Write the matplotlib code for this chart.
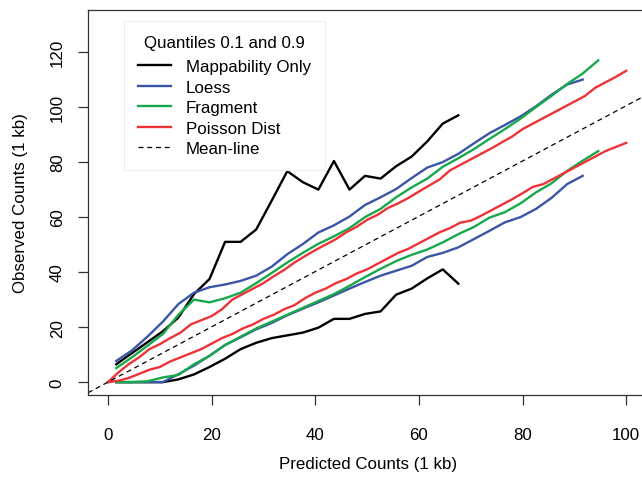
import matplotlib
matplotlib.use("Agg")
from matplotlib import pyplot as plt

plt.rcParams['font.family'] = ['Liberation Sans', 'DejaVu Sans']

# x positions (predicted counts) for the binned quantile curves
x_bins = [1.6, 4.6, 7.6, 10.6, 13.6, 16.6, 19.6, 22.6, 25.6, 28.6, 31.6, 34.6,
          37.6, 40.6, 43.6, 46.6, 49.6, 52.6, 55.6, 58.6, 61.6, 64.6, 67.6, 70.6,
          73.6, 76.6, 79.6, 82.6, 85.6, 88.6, 91.6, 94.6]
x_pois = list(range(0, 101, 2))

# Mappability only
map_hi = [6.5, 10.5, 14.5, 18.5, 23.5, 32, 37.5, 51, 51, 55.5, 66, 76.7,
          72.7, 70, 80.4, 70, 75, 74, 78.5, 82, 87.5, 94, 97]
map_lo = [0, 0, 0, 0, 1, 2.8, 5.5, 8.5, 12, 14.3, 16, 17,
          18, 19.8, 23, 23, 24.8, 25.7, 31.8, 34, 37.7, 41, 35.8]

# Loess
loess_hi = [7.7, 11.5, 16.5, 22, 28.4, 32.5, 34.5, 35.5, 36.8, 38.7, 42, 46.5,
            50.2, 54.4, 57, 60.2, 64.4, 67.2, 70.2, 74.2, 78, 80, 83, 86.8,
            90.5, 93.5, 96.6, 100.3, 104.5, 108.2, 110]
loess_lo = [0, 0, 0, 0, 2.9, 6, 9.6, 13.5, 16.3, 19.2, 21.5, 24.3,
            26.7, 29, 31.5, 34, 36.4, 38.7, 40.5, 42.3, 45.5, 47, 49, 52,
            55, 58.1, 60, 63, 67, 72, 75]

# Fragment
frag_hi = [5.1, 9, 13.2, 17.5, 24.5, 30, 29, 30.5, 32.5, 36, 39.7, 43.5,
           47, 50.3, 53, 56, 60, 63, 67.2, 70.8, 74, 78.3, 81.4, 84.7,
           88.4, 92, 95.8, 100, 104.1, 108.4, 112.2, 117]
frag_lo = [0, 0, 0.3, 1.7, 2.6, 6.5, 9.5, 13.5, 16.5, 19.5, 22, 24.5,
           27, 29.5, 32, 35, 38.2, 41.2, 44, 46.3, 48.2, 50.8, 53.8, 56.4,
           59.8, 61.8, 65, 69, 72.3, 76.8, 80.5, 84]

# Poisson dist
pois_hi = [0, 3.5, 6.5, 9, 12, 13.8, 16, 18, 21, 22.5, 24, 26.5, 30, 32, 34,
           36, 38.5, 40.8, 43.5, 45.8, 48, 50, 52, 54.5, 56.5, 59, 60.8, 63.3,
           65, 67, 69.3, 71.5, 73.7, 77, 79, 81, 83, 85, 87.2, 89.3, 92, 94,
           96, 98, 100, 102, 104, 107, 109, 111, 113.2]
pois_lo = [0, 0.5, 1.5, 3, 4.5, 5.5, 7.5, 9, 10.5, 12, 14, 16, 17.5, 19.5, 21,
           23, 24.5, 26.5, 28, 30.5, 32.5, 34, 36, 37.5, 39.5, 41, 43, 45, 47,
           48.5, 50.5, 52.5, 54.5, 56, 58, 58.7, 60.5, 62.5, 64.5, 66.5, 68.7,
           71, 72, 74, 76, 78, 80, 82, 84, 85.5, 87]

mean_slope = 1.005

BLACK = 'black'
BLUE = '#3B55A5'
GREEN = '#18A84C'
RED = '#EE3338'
LW = 1.7
FS = 12.2

fig = plt.figure(figsize=(6.42, 4.81), dpi=100)
ax = fig.add_axes([88 / 642, 1 - 395.5 / 481, 560 / 642, 384.5 / 481])

ax.plot(x_bins[:len(map_hi)], map_hi, color=BLACK, lw=LW, label='Mappability Only')
ax.plot(x_bins[:len(map_lo)], map_lo, color=BLACK, lw=LW)
ax.plot(x_bins[:len(loess_hi)], loess_hi, color=BLUE, lw=LW, label='Loess')
ax.plot(x_bins[:len(loess_lo)], loess_lo, color=BLUE, lw=LW)
ax.plot(x_bins[:len(frag_hi)], frag_hi, color=GREEN, lw=LW, label='Fragment')
ax.plot(x_bins[:len(frag_lo)], frag_lo, color=GREEN, lw=LW)
ax.plot(x_pois, pois_hi, color=RED, lw=LW, label='Poisson Dist')
ax.plot(x_pois, pois_lo, color=RED, lw=LW)
ax.axline((0, 0), slope=mean_slope, color=BLACK, lw=0.9, ls=(0, (4, 3)),
          label='Mean-line')

ax.set_xlim(-3.85, 104.2)
ax.set_ylim(-4.5, 135.3)
ax.set_xticks(range(0, 101, 20))
ax.set_yticks(range(0, 121, 20))
ax.tick_params(direction='out', length=7.2, width=0.9, color='#333333',
               labelsize=FS)
ax.tick_params(axis='x', pad=16)
ax.tick_params(axis='y', pad=9.5)
for lab in ax.get_yticklabels():
    lab.set_rotation(90)
    lab.set_verticalalignment('center')
    lab.set_horizontalalignment('right')
for sp in ax.spines.values():
    sp.set_linewidth(0.9)
    sp.set_color('#333333')

ax.set_xlabel('Predicted Counts (1 kb)', fontsize=FS, labelpad=10.5)
ax.set_ylabel('Observed Counts (1 kb)', fontsize=FS, labelpad=16)

leg = ax.legend(title='Quantiles 0.1 and 0.9', loc='upper left',
                bbox_to_anchor=(124 / 642, 1 - 22 / 481),
                bbox_transform=fig.transFigure, borderaxespad=0, fontsize=FS,
                title_fontsize=FS, handlelength=1.95, handletextpad=0.9,
                labelspacing=0.32, borderpad=0.8, fancybox=False,
                framealpha=1, edgecolor='#eeeeee')
leg.get_frame().set_linewidth(0.8)
# a bit more room between the title and the entries
leg._legend_box.sep = 7

fig.savefig('out.png', dpi=100)
